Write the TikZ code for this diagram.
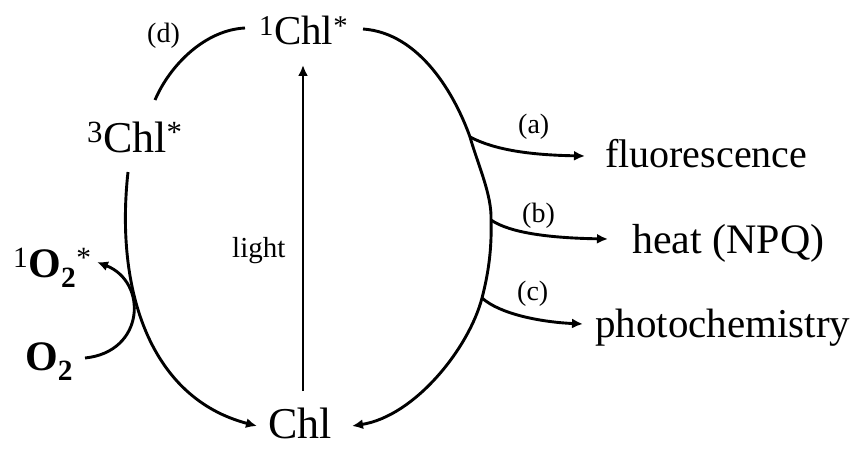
\documentclass[tikz,border=0pt]{standalone}
\usepackage{fontspec}
\setmainfont{Liberation Serif}
\usetikzlibrary{arrows.meta}
\begin{document}
\begin{tikzpicture}[x=1pt,y=1pt,
  txt/.style={inner sep=0pt, anchor=base west},
  chem/.style={txt, font=\fontsize{44}{50}\selectfont},
  outc/.style={txt, font=\fontsize{41}{48}\selectfont},
  tag/.style={txt, font=\fontsize{28}{32}\selectfont},
  ln/.style={line width=2.9pt},
  arr/.style={ln, -{Latex[length=11pt,width=10pt]}}]
\useasboundingbox (0,0) rectangle (853,448);
% nodes
\node[chem, font=\fontsize{41}{48}\selectfont] (c1) at (259,403) {\textsuperscript{1}Chl\textsuperscript{*}};
\node[chem] (c3) at (87,296) {\textsuperscript{3}Chl\textsuperscript{*}};
\node[chem] (chl) at (268,10) {Chl};
\node[outc, font=\fontsize{40}{48}\selectfont] (fl) at (605,281) {fluorescence};
\node[outc, font=\fontsize{42}{48}\selectfont] (heat) at (632,195) {heat (NPQ)};
\node[outc] (photo) at (595,111) {photochemistry};
\node[tag] (la) at (518,315) {(a)};
\node[tag] (lb) at (522,226) {(b)};
\node[tag] (lc) at (517,148) {(c)};
\node[tag] (ld) at (147,405) {(d)};
\node[tag, font=\fontsize{29}{32}\selectfont] (light) at (232,191) {light};
\node[chem, font=\fontsize{42}{48}\selectfont] (so2) at (13,171) {\textsuperscript{1}\textbf{O}\textsubscript{\textbf{2}}\textsuperscript{*}};
\node[chem, font=\fontsize{42}{48}\selectfont] (o2) at (25,78) {\textbf{O}\textsubscript{\textbf{2}}};
% branch points and curve ends
\coordinate (c1r) at (363,419);
\coordinate (ba) at (470,311);
\coordinate (bb) at (491,228);
\coordinate (bc) at (482,150);
\coordinate (chlr) at (352,22);
\coordinate (chll) at (257,22);
\coordinate (c1l) at (245,420);
\coordinate (c3t) at (155,348);
\coordinate (c3b) at (128,276);
\coordinate (o2e) at (85,90);
\coordinate (so2e) at (97,186);
\coordinate (lightb) at (303,57);
\coordinate (lightt) at (303,383);
\coordinate (fle) at (585,292);
\coordinate (heate) at (608,209);
\coordinate (photoe) at (583,124);
% main right curve: 1Chl* -> Chl
\draw[arr] (c1r) .. controls (420,415) and (455,353) .. (ba)
  .. controls (478,283) and (492,253) .. (bb)
  .. controls (492,198) and (488,173) .. (bc)
  .. controls (469,100) and (415,32) .. (chlr);
% (d) arc
\draw[ln] (c1l) .. controls (205,418) and (170,383) .. (c3t);
% 3Chl* -> Chl
\draw[arr] (c3b) .. controls (115,158) and (150,50) .. (chll);
% O2 -> 1O2*
\draw[arr] (o2e) .. controls (145,96) and (148,166) .. (so2e);
% light
\draw[arr] (lightb) -- (lightt);
% branches
\draw[arr] (ba) .. controls (495,298) and (530,293) .. (fle);
\draw[arr] (bb) .. controls (510,215) and (550,210) .. (heate);
\draw[arr] (bc) .. controls (500,134) and (540,126) .. (photoe);
\end{tikzpicture}
\end{document}
